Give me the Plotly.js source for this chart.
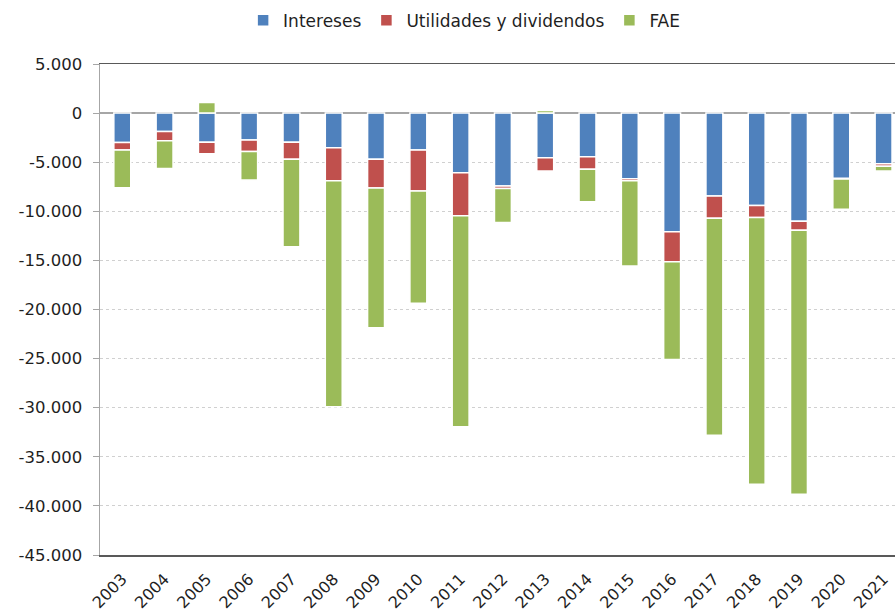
<!DOCTYPE html>
<html>
<head>
<meta charset="utf-8">
<script src="https://cdn.plot.ly/plotly-3.0.1.min.js"></script>
<style>html,body{margin:0;padding:0;background:#fff;}#chart{width:895px;height:615px;}</style>
</head>
<body>
<div id="chart"></div>
<script>
const years = ["2003","2004","2005","2006","2007","2008","2009","2010","2011","2012","2013","2014","2015","2016","2017","2018","2019","2020","2021"];
const intereses = [-3000,-1870,-2980,-2750,-2980,-3530,-4710,-3770,-6080,-7430,-4550,-4450,-6690,-12080,-8450,-9400,-11020,-6650,-5160];
const utilidades = [-770,-950,-1160,-1150,-1730,-3360,-2920,-4170,-4370,-240,-1350,-1280,-200,-3060,-2270,-1220,-920,-70,-240];
const fae = [-3830,-2810,1090,-2920,-8900,-23010,-14230,-11430,-21480,-3460,270,-3300,-8680,-9940,-22090,-27180,-26880,-3080,-500];
const yTicks = [5000,0,-5000,-10000,-15000,-20000,-25000,-30000,-35000,-40000,-45000];

function fmt(v){
  const s = Math.abs(v).toString().replace(/\B(?=(\d{3})+(?!\d))/g, '.');
  return (v < 0 ? '-' : '') + s;
}
const yTickText = yTicks.map(fmt);

const fontFam = "'DejaVu Sans', sans-serif";
function bar(name, vals, color){
  return {type:'bar', name:name, x:years, y:vals, width:0.4,
    marker:{color:color, line:{color:'#ffffff', width:1.5}}};
}
const data = [
  bar('Intereses', intereses, '#4f81bd'),
  bar('Utilidades y dividendos', utilidades, '#c0504d'),
  bar('FAE', fae, '#9bbb59')
];
const layout = {
  width:895, height:615,
  margin:{l:100, r:0, t:64, b:60},
  paper_bgcolor:'#ffffff', plot_bgcolor:'#ffffff',
  barmode:'relative',
  font:{family:fontFam, size:16, color:'#1f1f1f'},
  showlegend:true,
  legend:{orientation:'h', x:0.458, xanchor:'center', y:1.125, yanchor:'top',
    font:{family:fontFam, size:17, color:'#1f1f1f'}, traceorder:'normal', itemwidth:30},
  xaxis:{type:'category', range:[-0.527, 18.27], tickangle:-45,
    showline:true, linecolor:'#595959', linewidth:1.5, mirror:true,
    ticks:'', showgrid:false, ticklabelstandoff:7,
    tickfont:{family:fontFam, size:16, color:'#1f1f1f'}},
  yaxis:{range:[-45000,5000], tickmode:'array', tickvals:yTicks, ticktext:yTickText,
    showline:true, linecolor:'#a6a6a6', linewidth:1.5,
    ticks:'outside', ticklen:6, tickcolor:'#a6a6a6', ticklabelstandoff:7,
    showgrid:true, gridcolor:'#d0d0d0', griddash:'dot', gridwidth:1,
    zeroline:true, zerolinecolor:'#a6a6a6', zerolinewidth:1.5,
    tickfont:{family:fontFam, size:16.5, color:'#1f1f1f'}}
};
Plotly.newPlot('chart', data, layout, {displayModeBar:false, staticPlot:true});
</script>
</body>
</html>
